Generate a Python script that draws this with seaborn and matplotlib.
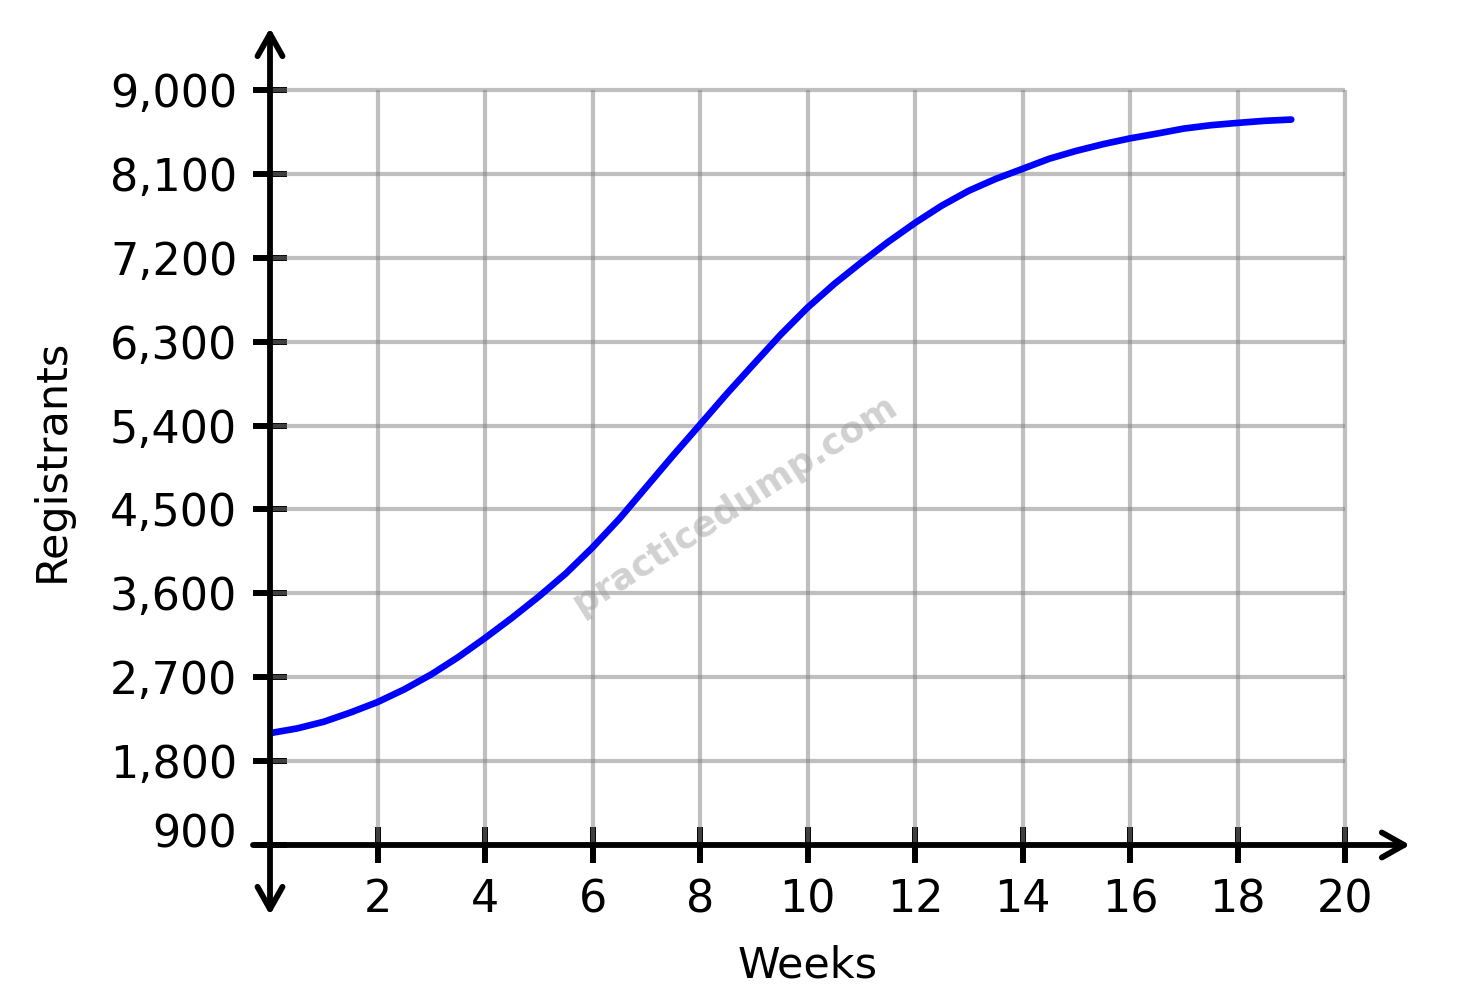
import matplotlib
matplotlib.use("Agg")
import matplotlib.pyplot as plt
import matplotlib.transforms as mtransforms
import seaborn as sns

# Values (every half week)
weeks = [0, 0.5, 1, 1.5, 2, 2.5, 3, 3.5, 4, 4.5, 5, 5.5, 6, 6.5, 7, 7.5,
         8, 8.5, 9, 9.5, 10, 10.5, 11, 11.5, 12, 12.5, 13, 13.5, 14, 14.5,
         15, 15.5, 16, 16.5, 17, 17.5, 18, 18.5, 19]
registrants = [2100, 2150, 2222, 2322, 2433, 2570, 2730, 2915, 3120, 3336,
               3565, 3811, 4092, 4400, 4740, 5080, 5410, 5742, 6060, 6375,
               6665, 6920, 7150, 7370, 7574, 7760, 7919, 8046, 8154, 8263,
               8347, 8419, 8481, 8532, 8586, 8622, 8647, 8669, 8683]

x_ticks = [2, 4, 6, 8, 10, 12, 14, 16, 18, 20]
y_ticks = [900, 1800, 2700, 3600, 4500, 5400, 6300, 7200, 8100, 9000]
y_tick_labels = ["900", "1,800", "2,700", "3,600", "4,500",
                 "5,400", "6,300", "7,200", "8,100", "9,000"]

sns.set_theme(style="white")
plt.rcParams["font.family"] = ["DejaVu Sans"]

W, H = 1470, 997
fig = plt.figure(figsize=(W / 100, H / 100), dpi=100)

# axes box in pixels: x 270..1420, y 20..925
ax = fig.add_axes([270 / W, (H - 925) / H, 1150 / W, 905 / H])
px_x = 53.75            # pixels per week
px_y = 755 / 8100       # pixels per registrant
ax.set_xlim(0, 1150 / px_x)
ax.set_ylim(900 - 80 / px_y, 900 + 825 / px_y)
ax.set_facecolor("white")

for s in ax.spines.values():
    s.set_visible(False)
ax.spines["left"].set_position(("data", 0))
ax.spines["bottom"].set_position(("data", 900))

# grid
ax.hlines(y_ticks[1:], 0, 20, color="gray", alpha=0.5, lw=3, zorder=1)
ax.vlines(x_ticks, 900, 9000, color="gray", alpha=0.5, lw=3, zorder=1)

# curve
sns.lineplot(x=weeks, y=registrants, ax=ax, color="#0000ff", lw=4.8, zorder=4)

# axes with arrows
head = "head_length=0.8,head_width=0.45"
ax.annotate("", xy=(0, 900 + 817 / px_y), xytext=(0, 900 - 70 / px_y),
            arrowprops=dict(arrowstyle="<->," + head, lw=4.2, color="black",
                            shrinkA=0, shrinkB=0, mutation_scale=20),
            annotation_clip=False, zorder=5)
ax.annotate("", xy=(1140 / px_x, 900), xytext=(-17 / px_x, 900),
            arrowprops=dict(arrowstyle="->," + head, lw=4.2, color="black",
                            shrinkA=0, shrinkB=0, mutation_scale=20),
            annotation_clip=False, zorder=5)

ax.set_xticks(x_ticks)
ax.set_xticklabels([str(t) for t in x_ticks])
ax.set_yticks(y_ticks)
ax.set_yticklabels(y_tick_labels)
ax.tick_params(axis="x", bottom=True, direction="inout", length=26, width=4.3,
               pad=11, labelsize=32, colors="black")
ax.tick_params(axis="y", left=True, direction="inout", length=25, width=4.3,
               pad=11, labelsize=32, colors="black")

# lift the 900 label so it sits on the axis line
lbl = ax.get_yticklabels()[0]
lbl.set_transform(lbl.get_transform() +
                  mtransforms.ScaledTranslation(0, 0.15, fig.dpi_scale_trans))

fig.text(52 / W, 1 - 460 / H, "Registrants", rotation=90, ha="center",
         va="center", fontsize=31, color="black")
fig.text(808 / W, 1 - 965 / H, "Weeks", ha="center", va="center",
         fontsize=31, color="black")

# watermark
fig.text(735 / W, 1 - 505 / H, "practicedump.com", rotation=32.6,
         rotation_mode="anchor", ha="center", va="center", fontsize=26,
         fontweight="bold", color="#999999", alpha=0.45, zorder=10)

fig.savefig("out.png", dpi=100)
